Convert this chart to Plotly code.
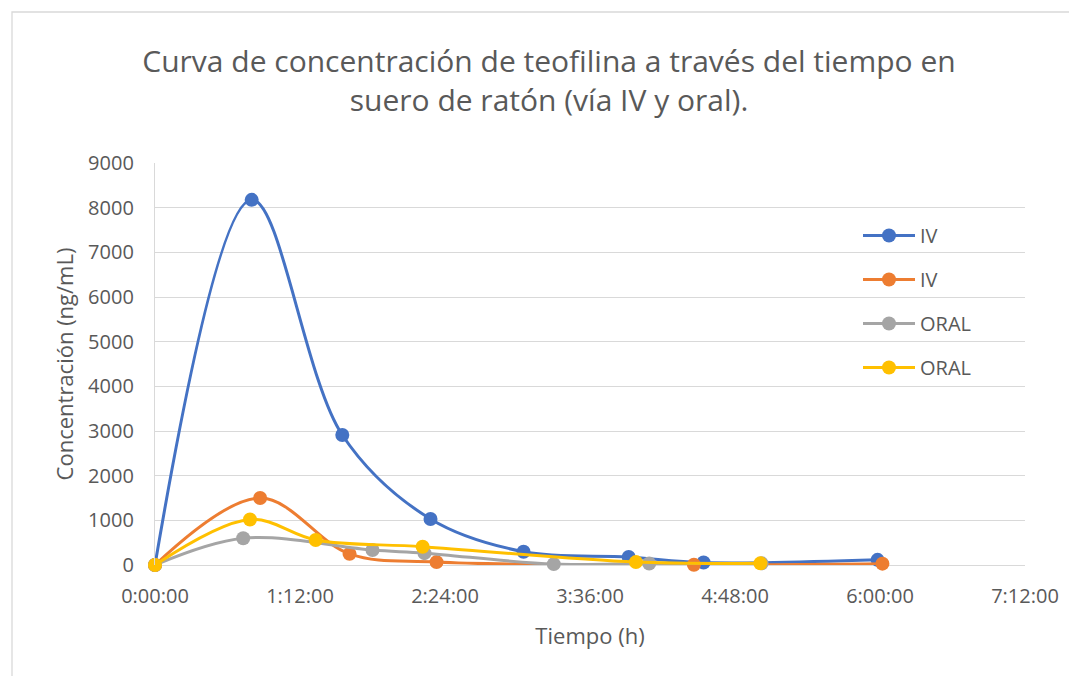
import plotly.graph_objects as go

# Time in hours, concentration in ng/mL
iv1_t = [0, 0.80, 1.55, 2.28, 3.05, 3.92, 4.54, 5.98]
iv1_c = [0, 8175, 2910, 1030, 298, 180, 55, 115]

iv2_t = [0, 0.87, 1.61, 2.33, 4.46, 6.02]
iv2_c = [0, 1500, 250, 65, 5, 30]

oral1_t = [0, 0.73, 1.80, 2.23, 3.30, 4.09, 5.02]
oral1_c = [0, 600, 335, 265, 20, 35, 37]

oral2_t = [0, 0.786, 1.33, 2.215, 3.98, 5.01]
oral2_c = [0, 1020, 560, 410, 65, 37]

names = ["IV", "IV", "ORAL", "ORAL"]
colors = ["#4472C4", "#ED7D31", "#A5A5A5", "#FFC000"]
series = [(iv1_t, iv1_c), (iv2_t, iv2_c), (oral1_t, oral1_c), (oral2_t, oral2_c)]

x_tickvals = [0, 1.2, 2.4, 3.6, 4.8, 6.0, 7.2]
x_ticktext = ["0:00:00", "1:12:00", "2:24:00", "3:36:00", "4:48:00", "6:00:00", "7:12:00"]

FONT = "Open Sans"
GREY = "#595959"

fig = go.Figure()
for i, ((t, c), n, col) in enumerate(zip(series, names, colors)):
    fig.add_trace(go.Scatter(
        x=t, y=c, name=n, mode="lines+markers",
        line=dict(color=col, width=3, shape="spline", smoothing=1),
        marker=dict(color=col, size=14),
        legendgroup=f"g{i}", cliponaxis=False,
    ))

OFF = 8  # page body margin
W, H = 1077 - OFF, 676 - OFF
# target plot area in window pixels: x 155..1025, y 163..565
L, T = 155 - OFF, 163 - OFF
R = W - (1025 - OFF)
B = H - (565 - OFF)
pw, ph = W - L - R, H - T - B

def px(xw):
    return (xw - 155) / pw

def py(yw):
    return (565 - yw) / ph

fig.update_layout(
    width=W, height=H,
    margin=dict(l=L, r=R, t=T, b=B),
    paper_bgcolor="white", plot_bgcolor="white",
    font=dict(family=FONT, color=GREY, size=16),
    title=dict(
        text="Curva de concentración de teofilina a través del tiempo en<br>suero de ratón (vía IV y oral).",
        x=(549 - OFF) / W, xanchor="center", xref="container",
        y=1 - (72 - OFF) / H, yanchor="middle", yref="container",
        font=dict(family=FONT, size=30, color=GREY),
    ),
    xaxis=dict(
        range=[0, 7.2], tickvals=x_tickvals, ticktext=x_ticktext,
        showgrid=False, zeroline=False, showline=False,
        tickfont=dict(size=20, color=GREY), ticks="", ticklabelstandoff=17,
        title=dict(text="Tiempo (h)", font=dict(size=22, color=GREY), standoff=20),
    ),
    yaxis=dict(
        range=[0, 9000], dtick=1000, showgrid=True, gridcolor="#D9D9D9", gridwidth=1.3,
        zeroline=True, zerolinecolor="#D9D9D9", zerolinewidth=1.3,
        showline=True, linecolor="#D9D9D9", linewidth=1.3,
        tickfont=dict(size=20, color=GREY), ticks="", ticklabelstandoff=16,
        title=dict(text="Concentración (ng/mL)", font=dict(size=22, color=GREY), standoff=8),
    ),
    legend=dict(
        x=px(858), y=py(216), xanchor="left", yanchor="top",
        bgcolor="rgba(0,0,0,0)", font=dict(size=20, color=GREY),
        traceorder="grouped", tracegroupgap=15, itemwidth=52,
    ),
    showlegend=True,
    shapes=[dict(
        type="rect", xref="paper", yref="paper",
        x0=px(12), x1=px(1085),
        y0=py(685), y1=py(12),
        line=dict(color="#D9D9D9", width=1.3), fillcolor="rgba(0,0,0,0)", layer="below",
    )],
)

fig.write_html("out.html")
